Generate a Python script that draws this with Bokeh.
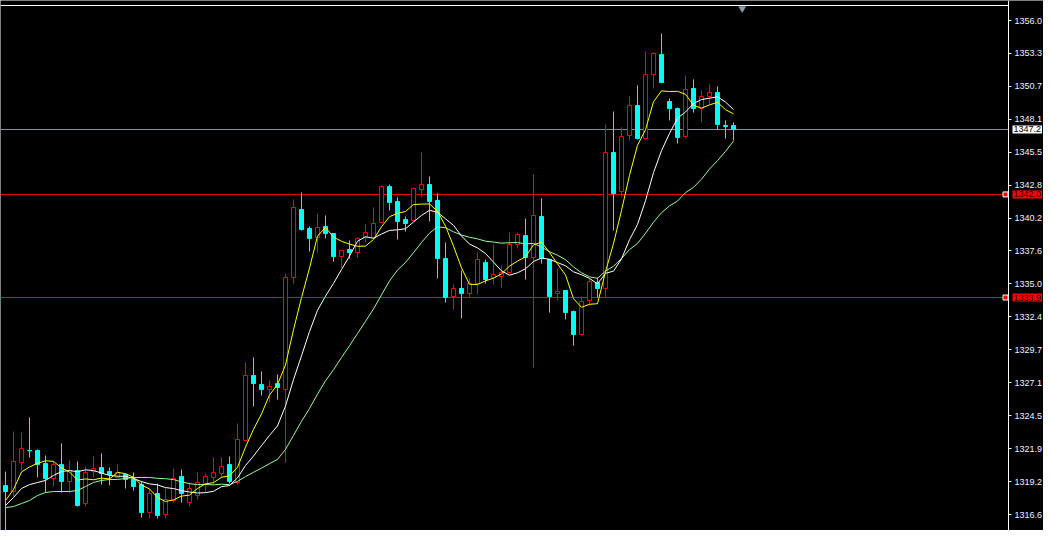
import numpy as np
from bokeh.plotting import figure
from bokeh.models import Range1d, FixedTicker, Label, ColumnDataSource, LinearAxis
from bokeh.embed import file_html
from bokeh.resources import INLINE

# ---- candle data (XAUUSD) ----
opens = [1318.92, 1318.44, 1320.75, 1321.71, 1321.71, 1320.67, 1319.48, 1320.59, 1319.24, 1320.11,
         1317.48, 1320.03, 1320.35, 1320.03, 1319.56, 1319.80, 1319.40, 1318.99, 1316.77, 1318.28,
         1316.61, 1317.72, 1319.64, 1317.56, 1318.12, 1319.08, 1319.56, 1319.88, 1320.59, 1319.16,
         1322.51, 1327.69, 1326.97, 1326.57, 1327.05, 1326.57, 1335.50, 1340.93, 1339.41, 1338.70,
         1339.57, 1339.01, 1337.18, 1337.74, 1337.50, 1338.70, 1338.70, 1339.89, 1342.76, 1341.57,
         1340.13, 1340.05, 1342.52, 1342.92, 1341.65, 1337.02, 1333.99, 1334.63, 1334.23, 1335.03,
         1336.70, 1335.51, 1335.59, 1335.90, 1338.14, 1338.85, 1337.10, 1340.37, 1336.94, 1334.23,
         1334.47, 1332.79, 1330.96, 1333.67, 1335.11, 1334.63, 1345.47, 1342.36, 1346.83, 1349.22,
         1346.59, 1351.69, 1353.29, 1349.54, 1348.98, 1346.75, 1350.58, 1348.98, 1349.94, 1350.26,
         1347.63, 1347.63]
highs = [1320.03, 1323.22, 1323.14, 1324.34, 1321.79, 1321.31, 1320.83, 1322.27, 1320.91, 1320.83,
         1320.43, 1321.23, 1321.47, 1320.35, 1320.59, 1319.88, 1319.95, 1319.24, 1318.68, 1319.08,
         1318.68, 1320.27, 1320.19, 1319.16, 1319.95, 1319.88, 1321.15, 1321.15, 1321.23, 1323.86,
         1328.73, 1329.13, 1328.01, 1327.29, 1327.77, 1335.82, 1341.73, 1342.29, 1339.57, 1340.61,
         1340.45, 1339.05, 1337.70, 1338.46, 1338.70, 1339.73, 1341.09, 1342.84, 1342.92, 1341.89,
         1340.37, 1342.68, 1345.47, 1343.56, 1342.21, 1338.30, 1334.95, 1336.06, 1335.43, 1337.50,
         1336.94, 1338.14, 1336.46, 1339.09, 1339.09, 1340.21, 1343.72, 1341.81, 1337.00, 1336.22,
         1334.50, 1332.87, 1333.99, 1335.43, 1335.51, 1347.71, 1348.74, 1347.47, 1349.94, 1350.82,
         1353.53, 1353.45, 1354.96, 1349.78, 1349.06, 1351.61, 1351.30, 1350.42, 1350.90, 1350.74,
         1348.03, 1347.87]
lows = [1315.09, 1318.04, 1320.11, 1321.15, 1319.56, 1318.36, 1318.84, 1318.36, 1318.28, 1317.24,
        1317.24, 1319.56, 1318.99, 1318.92, 1319.48, 1318.68, 1318.52, 1316.37, 1316.29, 1316.29,
        1316.29, 1317.56, 1317.56, 1317.24, 1317.80, 1318.36, 1318.99, 1319.56, 1319.08, 1318.99,
        1322.43, 1325.22, 1326.10, 1325.54, 1325.77, 1320.75, 1335.03, 1339.25, 1337.58, 1337.50,
        1338.62, 1336.78, 1336.30, 1337.02, 1337.10, 1338.30, 1338.65, 1339.81, 1340.85, 1338.54,
        1339.17, 1339.97, 1341.89, 1339.97, 1335.43, 1333.51, 1332.95, 1332.24, 1333.91, 1334.23,
        1335.03, 1334.95, 1334.71, 1335.85, 1337.82, 1335.35, 1328.33, 1336.62, 1332.71, 1333.67,
        1332.16, 1330.08, 1330.88, 1333.27, 1333.91, 1333.91, 1339.25, 1341.97, 1346.43, 1346.50,
        1346.51, 1350.58, 1351.00, 1348.03, 1346.19, 1346.59, 1348.66, 1347.87, 1349.30, 1347.31,
        1346.59, 1346.43]
closes = [1318.44, 1320.83, 1321.87, 1321.68, 1320.59, 1319.48, 1320.59, 1319.24, 1320.11, 1317.32,
          1319.95, 1320.27, 1319.88, 1319.80, 1319.95, 1319.40, 1318.84, 1316.77, 1318.28, 1316.53,
          1317.80, 1319.48, 1318.28, 1318.68, 1319.16, 1319.64, 1319.95, 1320.43, 1319.24, 1322.59,
          1327.69, 1327.05, 1326.57, 1326.81, 1326.73, 1335.50, 1341.09, 1339.33, 1338.62, 1339.49,
          1339.01, 1337.18, 1337.66, 1337.50, 1338.62, 1339.09, 1339.81, 1342.76, 1341.49, 1339.97,
          1339.81, 1342.60, 1342.92, 1341.57, 1337.02, 1333.91, 1334.63, 1334.23, 1335.03, 1336.94,
          1335.35, 1335.74, 1335.90, 1338.14, 1338.93, 1337.10, 1340.45, 1337.02, 1333.99, 1334.39,
          1332.71, 1330.96, 1333.59, 1335.19, 1334.63, 1345.47, 1342.20, 1346.75, 1349.22, 1346.59,
          1351.69, 1353.37, 1351.06, 1348.98, 1346.67, 1350.50, 1348.98, 1349.94, 1350.26, 1347.71,
          1347.55, 1347.31]

# moving-average values at the left edge (history before the window)
ma5_head = [1317.72, 1318.60, 1320.00, 1320.40]
ma10_head = [1317.32, 1317.96, 1318.68, 1318.99, 1319.16, 1319.32, 1319.72, 1320.03, 1320.11]
ma20_head = [1317.16, 1317.24, 1317.48, 1317.72, 1318.12, 1318.36, 1318.44, 1318.44, 1318.44,
             1318.52, 1318.84, 1319.16, 1319.32, 1319.40, 1319.40, 1319.48, 1319.56, 1319.56, 1319.56]

# price axis
tick_values = [1316.60, 1319.23, 1321.86, 1324.48, 1327.11, 1329.74, 1332.36, 1334.99,
               1337.62, 1340.24, 1342.87, 1345.50, 1348.12, 1350.75, 1353.38, 1356.00]
tick_labels = ["1316.6", "1319.2", "1321.9", "1324.5", "1327.1", "1329.7", "1332.4", "1335.0",
               "1337.6", "1340.2", "1342.8", "1345.5", "1348.1", "1350.7", "1353.3", "1356.0"]

# horizontal levels
bid_level = 1347.31
bid_text = "1347.2"
red_levels = [1342.13, 1333.91]
red_texts = ["1342.0", "1333.9"]

# visible window (bar index / price)
x_lo, x_hi = -0.625, 129.75
y_lo, y_hi = 1315.33, 1357.595
axis_x = 125.375         # price-scale position (bar units)
top_border = 1357.196    # chart top border
shift_mark_x = 92.09


def sma(vals, n, head):
    arr = np.asarray(vals, dtype=float)
    full = np.convolve(arr, np.ones(n) / n, mode="valid")
    return np.concatenate([np.asarray(head, dtype=float), full])


o = np.asarray(opens)
c = np.asarray(closes)
idx = np.arange(len(closes))
up = c > o
col = np.where(up, "#ff0000", "#00ffff")
fill = np.where(up, "#000000", "#00ffff")

src = ColumnDataSource(dict(x=idx, o=o, h=highs, l=lows, c=c,
                            top=np.maximum(o, c), bottom=np.minimum(o, c),
                            col=col, fill=fill))

ma5 = sma(closes, 5, ma5_head)
ma10 = sma(closes, 10, ma10_head)
ma20 = sma(closes, 20, ma20_head)

p = figure(frame_width=1043, frame_height=530,
           x_range=Range1d(x_lo, x_hi), y_range=Range1d(y_lo, y_hi),
           output_backend="svg", toolbar_location=None,
           y_axis_location=None, x_axis_location=None,
           min_border_left=0, min_border_top=0, min_border_bottom=0, min_border_right=0)
p.background_fill_color = "black"
p.border_fill_color = "black"
p.outline_line_color = None

ax = LinearAxis(fixed_location=axis_x)
ax.ticker = FixedTicker(ticks=tick_values)
ax.major_label_overrides = {v: s for v, s in zip(tick_values, tick_labels)}
ax.axis_line_color = "white"
ax.major_tick_line_color = "white"
ax.major_tick_out = 3
ax.major_tick_in = 0
ax.minor_tick_line_color = None
ax.major_label_text_color = "#eef2ff"
ax.major_label_text_font = "Liberation Sans"
ax.major_label_text_font_size = "9px"
ax.major_label_standoff = 3
p.add_layout(ax, "right")
p.grid.visible = False

# top border line and shift marker
p.segment(x0=[x_lo], x1=[axis_x], y0=[top_border], y1=[top_border], color="white", line_width=1)
p.scatter(x=[shift_mark_x], y=[1356.96], marker="inverted_triangle", size=8,
          fill_color="#8a9bb0", line_color=None)

# level lines (end at the price scale)
p.segment(x0=[x_lo], x1=[axis_x], y0=[bid_level], y1=[bid_level], color="#8a96a3", line_width=1)
p.segment(x0=[x_lo] * len(red_levels), x1=[axis_x] * len(red_levels),
          y0=red_levels, y1=red_levels, color="#ff0000", line_width=1)

# candles
p.segment(x0="x", y0="l", x1="x", y1="h", color="col", line_width=1, source=src)
p.vbar(x="x", width=0.5, top="top", bottom="bottom", fill_color="fill",
       line_color="col", line_width=1, source=src)

# moving averages
p.line(idx, ma20, color="#98fb98", line_width=1)
p.line(idx, ma10, color="#ffffff", line_width=1)
p.line(idx, ma5, color="#ffff00", line_width=1)

# level end markers
p.scatter(x=[axis_x - 0.375] * len(red_levels), y=red_levels, marker="square", size=5,
          fill_color="#ff0000", line_color="white", line_width=1)

# price boxes on the scale
p.add_layout(Label(x=axis_x + 0.5, y=bid_level, text=bid_text, text_font="Liberation Sans",
                   text_font_size="9px", text_color="black", text_baseline="middle",
                   background_fill_color="white", padding=1))
for lv, t in zip(red_levels, red_texts):
    p.add_layout(Label(x=axis_x + 0.5, y=lv, text=t, text_font="Liberation Sans",
                       text_font_size="9px", text_color="#200000", text_baseline="middle",
                       background_fill_color="#ff0000", padding=1))

open("out.html", "w").write(file_html(p, INLINE))
